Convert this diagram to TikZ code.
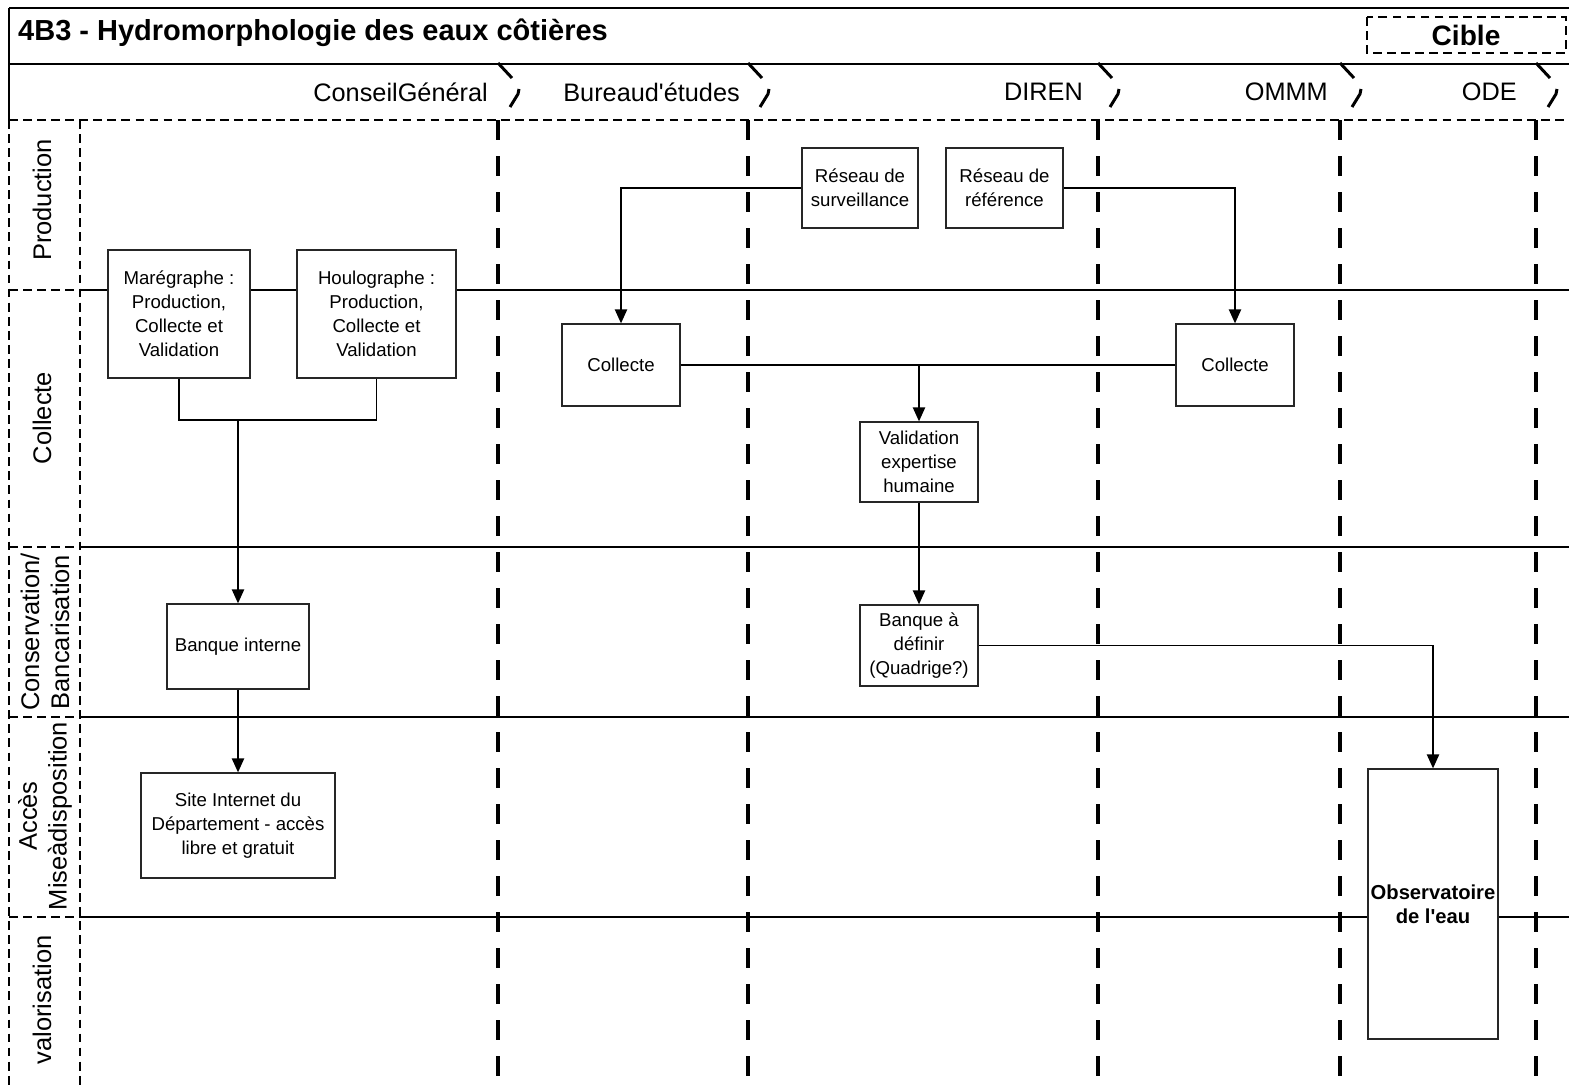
\documentclass[tikz,border=0pt]{standalone}
\usepackage{fontspec}
\setmainfont{Liberation Sans}
\usetikzlibrary{arrows.meta}

\begin{document}
\begin{tikzpicture}[
    x=0.02cm, y=-0.02cm,
    every node/.style={font=\fontsize{10.6}{13.7}\selectfont},
    box/.style={
        rectangle,
        draw=black!85,
        fill=white,
        line width=0.75pt,
        inner sep=1pt,
        align=center
    },
    arrow/.style={-{Triangle[width=7pt,length=8pt]}, line width=0.9pt},
    link/.style={line width=0.9pt},
    lane/.style={line width=1.1pt},
    thinDash/.style={line width=0.8pt, dash pattern=on 5pt off 3pt},
    sep/.style={line width=2.3pt, dash pattern=on 11.4pt off 9.1pt},
    laneHead/.style={rotate=90, align=center, font=\fontsize{14.5}{17}\selectfont},
    actor/.style={anchor=east, font=\fontsize{14.4}{17}\selectfont}
]
\useasboundingbox (0,0) rectangle (1569,1085);

% frame and title
\draw[lane] (9,8) -- (1569,8);
\draw[lane] (9,64) -- (1569,64);
\draw[lane] (9,8) -- (9,120);
\node[anchor=west, font=\fontsize{16.5}{19}\selectfont\bfseries] (title) at (12,33) {4B3 - Hydromorphologie des eaux côtières};
\draw[thinDash, line width=1pt] (1367,17) rectangle (1566,53);
\node[font=\fontsize{16}{19}\selectfont\bfseries] (cible) at (1466,35) {Cible};

% actors
\node[actor] (cg) at (494,92) {ConseilGénéral};
\node[actor] (be) at (746,92) {Bureaud\textquotesingle études};
\node[actor] (diren) at (1089,92) {DIREN};
\node[actor] (ommm) at (1334,92) {OMMM};
\node[actor] (ode) at (1523,92) {ODE};

% lanes
\draw[thinDash] (9,120) -- (1569,120);
\draw[thinDash] (9,120) -- (9,1085);
\draw[thinDash] (80,120) -- (80,1085);
\foreach \ly in {290,547,717,917} {
    \draw[thinDash] (9,\ly) -- (80,\ly);
    \draw[lane] (80,\ly) -- (1569,\ly);
}
\foreach \xs in {498,748,1098,1340,1536} {
    \draw[sep] (\xs,120) -- (\xs,1085);
    \draw[line width=1.7pt] (\xs,63) -- ++(14,15);
    \draw[line width=1.7pt] (\xs+21,89) -- (\xs+20,94) -- (\xs+12,107);
}

\node[laneHead] (lProd) at (42,200) {Production};
\node[laneHead] (lColl) at (42,418) {Collecte};
\node[laneHead] (lCons) at (45,632) {Conservation/\\Bancarisation};
\node[laneHead] (lAcc) at (45,816) {Accès\\Miseàdisposition};
\node[laneHead] (lVal) at (42,1000) {valorisation};

% boxes
\node[box, minimum width=2.84cm, minimum height=2.56cm] (mareg) at (179,314) {Marégraphe :\\Production,\\Collecte et\\Validation};
\node[box, minimum width=3.18cm, minimum height=2.56cm] (houlo) at (376.5,314) {Houlographe :\\Production,\\Collecte et\\Validation};
\node[box, minimum width=2.84cm, minimum height=1.7cm] (banqInt) at (238,646.5) {Banque interne};
\node[box, minimum width=3.88cm, minimum height=2.1cm] (site) at (238,825.5) {Site Internet du\\Département - accès\\libre et gratuit};
\node[box, minimum width=2.32cm, minimum height=1.6cm] (resSurv) at (860,188) {Réseau de\\surveillance};
\node[box, minimum width=2.34cm, minimum height=1.6cm] (resRef) at (1004.5,188) {Réseau de\\référence};
\node[box, minimum width=2.36cm, minimum height=1.64cm] (coll1) at (621,365) {Collecte};
\node[box, minimum width=2.36cm, minimum height=1.64cm] (coll2) at (1235,365) {Collecte};
\node[box, minimum width=2.36cm, minimum height=1.6cm] (valid) at (919,462) {Validation\\expertise\\humaine};
\node[box, minimum width=2.36cm, minimum height=1.62cm] (banqDef) at (919,645.5) {Banque à\\définir\\(Quadrige?)};
\node[box, minimum width=2.6cm, minimum height=5.4cm, font=\fontsize{11.5}{13.7}\selectfont\bfseries] (obs) at (1433,904) {Observatoire\\de l\textquotesingle eau};

% flows
\coordinate (join) at (238,420);
\coordinate (split) at (919,365);
\draw[link] (mareg.south) |- (join) -| (houlo.south);
\draw[arrow] (join) -- (banqInt);
\draw[arrow] (banqInt) -- (site);
\draw[arrow] (resSurv.west) -| (coll1.north);
\draw[arrow] (resRef.east) -| (coll2.north);
\draw[link] (coll1) -- (coll2);
\draw[arrow] (split) -- (valid);
\draw[arrow] (valid) -- (banqDef);
\draw[arrow] (banqDef.east) -| (obs.north);

\end{tikzpicture}
\end{document}
